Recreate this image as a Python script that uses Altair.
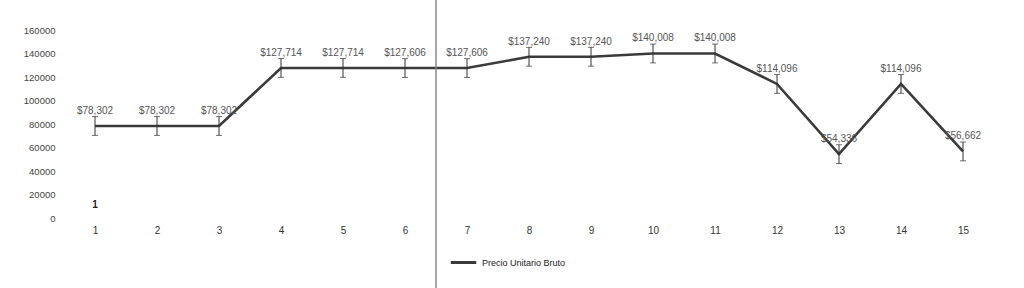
import altair as alt
import pandas as pd

periods = list(range(1, 16))
prices = [78302, 78302, 78302, 127714, 127714, 127606, 127606, 137240, 137240,
          140008, 140008, 114096, 54336, 114096, 56662]
labels = ["$78,302", "$78,302", "$78,302", "$127,714", "$127,714", "$127,606", "$127,606",
          "$137,240", "$137,240", "$140,008", "$140,008", "$114,096", "$54,336", "$114,096", "$56,662"]
err = 8000
series_name = "Precio Unitario Bruto"
y_ticks = [0, 20000, 40000, 60000, 80000, 100000, 120000, 140000, 160000]

df = pd.DataFrame({
    "x": periods,
    "y": prices,
    "lo": [p - err for p in prices],
    "hi": [p + err for p in prices],
    "label": labels,
    "serie": [series_name] * len(periods),
})

FONT = "Liberation Sans"
xscale = alt.Scale(domain=[0.5, 15.5], nice=False, zero=False)
yscale = alt.Scale(domain=[0, 160000], nice=False)
xaxis = alt.Axis(values=periods, title=None, domain=False, ticks=False, grid=False,
                 labelFontSize=10, labelColor="#333", labelFont=FONT, labelPadding=7,
                 format="d", labelOverlap=False)
yaxis = alt.Axis(values=y_ticks, title=None, domain=False, ticks=False, grid=False,
                 labelFontSize=9.5, labelColor="#444", labelFont=FONT, labelPadding=9,
                 format="d", labelOverlap=False)


def X(f):
    return alt.X(f, scale=xscale, axis=xaxis)


def Y(f):
    return alt.Y(f, scale=yscale, axis=yaxis)


base = alt.Chart(df)

line = base.mark_line(color="#505050", strokeWidth=2.6).encode(
    x=X("x:Q"), y=Y("y:Q"),
    color=alt.Color("serie:N", scale=alt.Scale(range=["#3a3a3a"]),
                    legend=alt.Legend(title=None, orient="none", legendX=385, legendY=218,
                                      symbolType="stroke", symbolStrokeWidth=3, symbolSize=650,
                                      labelFontSize=9, labelFont=FONT, labelColor="#222")),
)
bars = base.mark_rule(color="#333", strokeWidth=1).encode(x=X("x:Q"), y=Y("lo:Q"), y2="hi:Q")
cap_top = base.mark_tick(color="#333", orient="horizontal", size=6, thickness=1).encode(
    x=X("x:Q"), y=Y("hi:Q"))
cap_bot = base.mark_tick(color="#333", orient="horizontal", size=6, thickness=1).encode(
    x=X("x:Q"), y=Y("lo:Q"))
text = base.mark_text(dy=-15, fontSize=10, font=FONT, color="#555").encode(
    x=X("x:Q"), y=Y("y:Q"), text="label:N")

stray = alt.Chart(pd.DataFrame({"x": [1], "y": [11000], "t": ["1"]})).mark_text(
    fontSize=10, font=FONT, fontWeight="bold", color="#222").encode(
    x=X("x:Q"), y=Y("y:Q"), text="t:N")

divider = alt.Chart(pd.DataFrame({"x": [6.5]})).mark_rule(color="#888", strokeWidth=1.5, clip=False).encode(
    x=X("x:Q"), y=alt.value(-30), y2=alt.value(258))

chart = alt.layer(line, bars, cap_top, cap_bot, text, stray, divider).properties(
    width=930, height=188,
    background="white",
    autosize=alt.AutoSizeParams(type="none"),
    padding={"left": 64, "top": 30, "right": 30, "bottom": 70},
).configure_view(strokeWidth=0, stroke=None)

chart.save("out.html", embed_options={"renderer": "svg", "actions": False})
